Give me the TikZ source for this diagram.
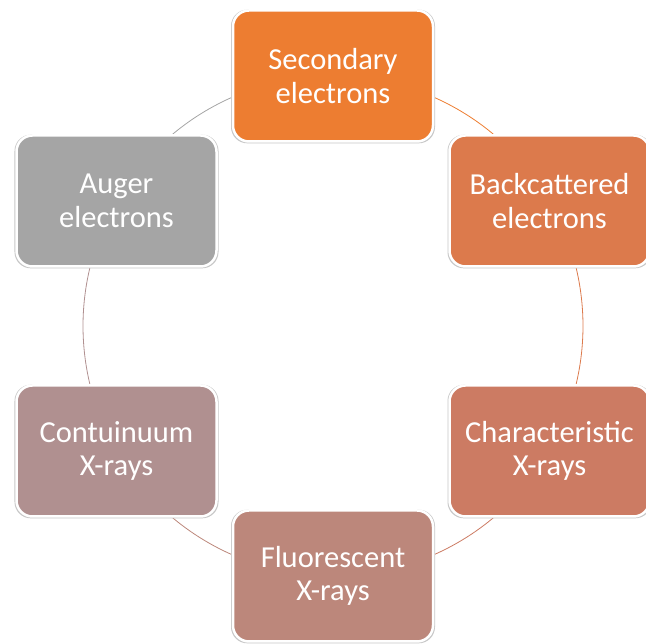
\documentclass[tikz,border=0pt]{standalone}
\usepackage{fontspec}
\setmainfont{Carlito}
\usetikzlibrary{shadows}
\definecolor{cSec}{HTML}{ED7D31}
\definecolor{cBack}{HTML}{DC7A4C}
\definecolor{cChar}{HTML}{CC7B63}
\definecolor{cFluo}{HTML}{BC877B}
\definecolor{cCont}{HTML}{B09090}
\definecolor{cAug}{HTML}{A5A5A5}
\tikzset{
  box/.style={draw=white, line width=2.5pt, rounded corners=16pt,
    minimum width=200pt, minimum height=131pt, align=center,
    text=white, font=\fontsize{30.5}{33.5}\selectfont,
    general shadow={fill=black!22, shadow scale=1.02, shadow yshift=-0.5pt}},
  ring/.style={line width=0.8pt}
}
\begin{document}
\begin{tikzpicture}[x=1pt,y=1pt]
\useasboundingbox (0,0) rectangle (646,644);
\coordinate (ctr) at (333,318);
% ring arcs (drawn first, behind boxes)
\coordinate (pSec)  at (333,568);
\coordinate (pBack) at (549.5,443);
\coordinate (pChar) at (549.5,193);
\coordinate (pFluo) at (333,68);
\coordinate (pCont) at (116.5,193);
\coordinate (pAug)  at (116.5,443);
\draw[ring,cAug]  (pAug)  arc[start angle=150, end angle=90,  radius=250];
\draw[ring,cSec]  (pSec)  arc[start angle=90,  end angle=30,  radius=250];
\draw[ring,cBack] (pBack) arc[start angle=30,  end angle=-30, radius=250];
\draw[ring,cChar] (pChar) arc[start angle=-30, end angle=-90, radius=250];
\draw[ring,cFluo] (pFluo) arc[start angle=-90, end angle=-150,radius=250];
\draw[ring,cCont] (pCont) arc[start angle=-150,end angle=-210,radius=250];
% boxes
\node[box, fill=cSec]  (sec)  at (pSec)  {Secondary\\electrons};
\node[box, fill=cBack] (back) at (pBack) {Backcattered\\electrons};
\node[box, fill=cChar] (char) at (pChar) {Characteristic\\X-rays};
\node[box, fill=cFluo] (fluo) at (pFluo) {Fluorescent\\X-rays};
\node[box, fill=cCont] (cont) at (pCont) {Contuinuum\\X-rays};
\node[box, fill=cAug]  (aug)  at (pAug)  {Auger\\electrons};
\end{tikzpicture}
\end{document}
